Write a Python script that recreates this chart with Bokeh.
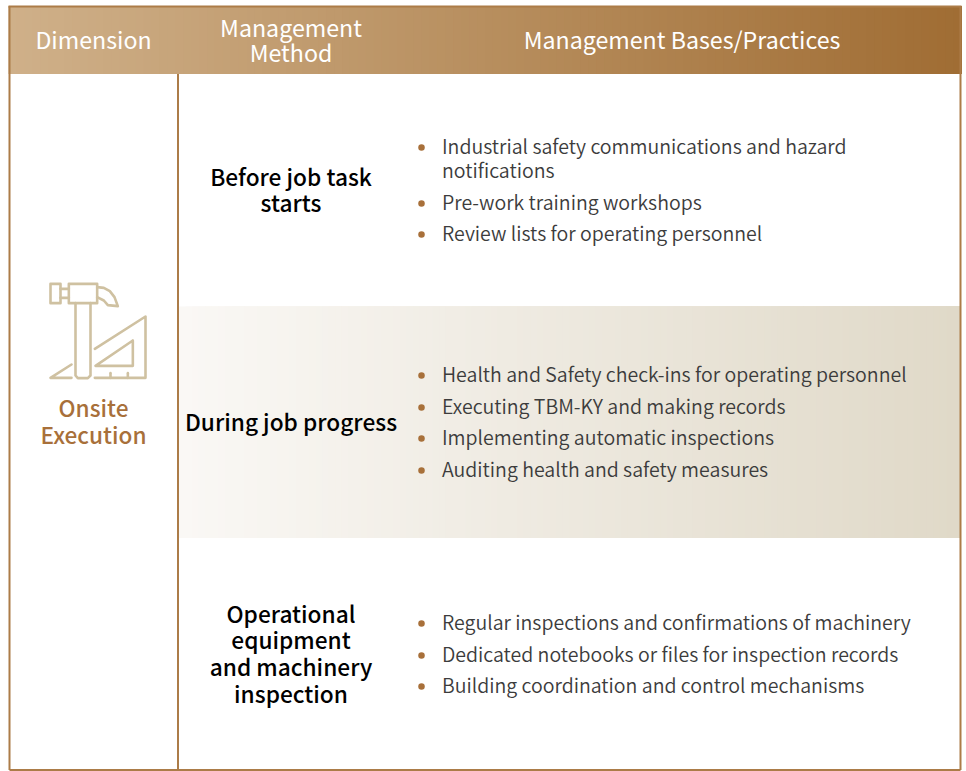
from bokeh.embed import file_html
from bokeh.resources import INLINE
from bokeh.plotting import figure
from bokeh.core.properties import value
from bokeh.models import Range1d

FONT = "Noto Sans CJK TC"
MED = "Noto Sans CJK TC Medium, Noto Sans CJK TC"
LIGHT = "Noto Sans CJK TC DemiLight, Noto Sans CJK TC"
W, H = 966, 771

# content
headers = ["Dimension", "Management", "Method", "Management Bases/Practices"]
header_x = [93, 290.5, 290.5, 681.5]
header_y = [38, 26, 51.5, 38]
dimension = ["Onsite", "Execution"]
dimension_y = [407, 434]
method_lines = ["Before job task", "starts", "During job progress", "Operational", "equipment",
                "and machinery", "inspection"]
method_y = [176, 202, 421, 613, 639, 666, 693]
practice_lines = ["Industrial safety communications and hazard", "notifications", "Pre-work training workshops",
                  "Review lists for operating personnel", "Health and Safety check-ins for operating personnel",
                  "Executing TBM-KY and making records", "Implementing automatic inspections",
                  "Auditing health and safety measures", "Regular inspections and confirmations of machinery",
                  "Dedicated notebooks or files for inspection records", "Building coordination and control mechanisms"]
practice_y = [145, 169, 201, 232, 373, 405, 436, 468, 621, 653, 684]
bullet_y = [147, 203, 234, 375, 407, 438, 470, 623, 655, 686]

# colours and geometry of the table
BORDER = "#AC7C48"
HEAD_L, HEAD_R = (207, 176, 137), (160, 109, 52)
BAND_L, BAND_R = (250, 248, 245), (224, 217, 200)
ICON = "#CFC1A1"
ACCENT = "#A8703A"


def mix(a, b, t):
    return "#%02x%02x%02x" % tuple(round(a[i] + (b[i] - a[i]) * t) for i in range(3))


p = figure(width=W, height=H, output_backend="svg", toolbar_location=None, min_border=0,
           x_range=Range1d(0, W), y_range=Range1d(H, 0), outline_line_color=None,
           background_fill_color="white", border_fill_color="white")
p.axis.visible = False
p.grid.visible = False


def gradient(x0, x1, y0, y1, a, b, steps=120):
    lefts = [x0 + (x1 - x0) * i / steps for i in range(steps)]
    cols = [mix(a, b, i / (steps - 1)) for i in range(steps)]
    p.quad(left=lefts, right=[x1] * steps, top=[y0] * steps, bottom=[y1] * steps,
           fill_color=cols, line_color=None)


gradient(8, 961, 5.5, 73.5, HEAD_L, HEAD_R)
gradient(178.5, 959, 306, 537.5, BAND_L, BAND_R)

# frame
p.multi_line(xs=[[9, 9], [960, 960], [9, 960], [177.5, 177.5]], ys=[[6, 769.5], [6, 769.5], [769.5, 769.5], [73.5, 769.5]],
             line_color=BORDER, line_width=2)
p.line([8, 961], [6, 6], line_color=BORDER, line_width=2)

# hammer + set-square icon (in 3x zoom coordinates)
def zx(v): return [a / 3 for a in v]
def zy(v): return [260 + a / 3 for a in v]

icon = [
    ([150, 180, 180, 150, 150], [70, 70, 128, 128, 70]),
    ([180, 205], [85, 85]), ([180, 205], [112, 112]),
    ([205, 290, 290, 205, 205], [70, 70, 128, 128, 70]),
    ([290, 310, 328, 342, 352, 322, 310, 290], [80, 82, 92, 110, 137, 134, 120, 110]),
    ([225, 225, 232, 262, 270, 270], [128, 345, 353, 353, 345, 128]),
    ([283, 435, 435, 283], [265, 168, 352, 352]),
    ([213, 150, 213], [312, 352, 352]),
    ([397, 397, 285, 397], [240, 316, 316, 240]),
    ([330, 330], [338, 352]), ([382, 382], [338, 352]),
]
p.multi_line(xs=[zx(a) for a, _ in icon], ys=[zy(b) for _, b in icon], line_color=ICON, line_width=2.6,
             line_join="round", line_cap="round")

p.text(x=header_x, y=header_y, text=headers, text_color="white", text_font=value(FONT),
       text_font_size="23.2px", text_align="center", text_baseline="alphabetic")
p.text(x=[93] * 2, y=dimension_y, text=dimension, text_color=ACCENT, text_font=value(MED),
       text_font_size="22.6px", text_align="center", text_baseline="alphabetic")
p.text(x=[290.5] * len(method_lines), y=method_y, text=method_lines, text_color="black", text_font=value(MED),
       text_font_size="22.7px", text_align="center", text_baseline="alphabetic")
p.text(x=[441.5] * len(practice_lines), y=practice_y, text=practice_lines, text_color="#3c3c3c",
       text_font=value(LIGHT), text_font_size="19.55px", text_align="left", text_baseline="alphabetic")
p.scatter(x=[421] * len(bullet_y), y=bullet_y, size=6.5, marker="circle", fill_color=ACCENT, line_color=None)

open("out.html", "w").write(file_html(p, INLINE))
